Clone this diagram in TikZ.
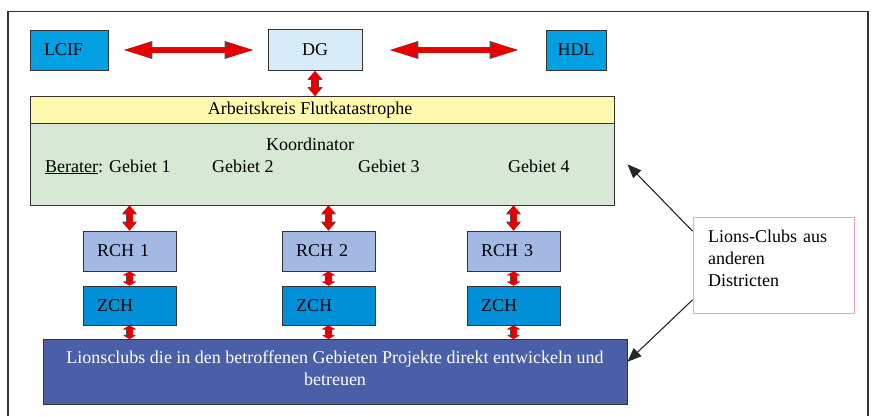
\documentclass[tikz,border=0pt]{standalone}
\usepackage{fontspec}
\setmainfont{Liberation Serif}
\usetikzlibrary{arrows.meta,positioning,calc}
\definecolor{lcifblue}{RGB}{0,160,226}
\definecolor{dgfill}{RGB}{215,235,248}
\definecolor{akfill}{RGB}{255,248,175}
\definecolor{koordfill}{RGB}{215,233,212}
\definecolor{rchfill}{RGB}{163,185,227}
\definecolor{zchfill}{RGB}{0,144,215}
\definecolor{lionsfill}{RGB}{75,94,168}
\definecolor{pinkline}{RGB}{244,166,174}
\definecolor{redfill}{RGB}{232,0,0}

\begin{document}
\begin{tikzpicture}[
    x=1pt, y=-1pt, font=\fontsize{18}{21.6}\selectfont,
    box/.style={draw=black!80, line width=0.9pt, inner sep=0pt, minimum height=40pt},
    padbox/.style={box, inner xsep=14pt, align=left},
    band/.style={box, minimum width=584pt},
    gebiet/.style={anchor=base west, inner sep=0pt},
    bigdbl/.style={draw=redfill, line width=5pt,
      {Triangle[length=28pt,width=14pt]}-{Triangle[length=28pt,width=14pt]},
      preaction={draw=black!70, line width=6.4pt,
        arrows={{Triangle[length=30pt,width=16pt]}-{Triangle[length=30pt,width=16pt]}}}},
    middbl/.style={draw=redfill, line width=6pt,
      {Triangle[length=8pt,width=13pt]}-{Triangle[length=8pt,width=13pt]},
      preaction={draw=black!70, line width=7.4pt,
        arrows={{Triangle[length=9pt,width=14.6pt]}-{Triangle[length=9pt,width=14.6pt]}}}},
    smalldbl/.style={draw=redfill, line width=6pt,
      {Triangle[length=3.5pt,width=12pt]}-{Triangle[length=3.5pt,width=12pt]},
      preaction={draw=black!70, line width=7.4pt,
        arrows={{Triangle[length=4.2pt,width=13.4pt]}-{Triangle[length=4.2pt,width=13.4pt]}}}},
    pointer/.style={-{Triangle[length=14pt,width=11pt]}, draw=black!85, line width=1.1pt},
  ]
  \useasboundingbox (0,0) rectangle (874,416);
  % outer frame, open at the bottom
  \draw[black!80, line width=1.2pt] (8,416) -- (8,11.5) -- (868,11.5) -- (868,416);

  % top row
  \node[padbox, fill=lcifblue, text width=50pt] (lcif) at (69,50) {LCIF};
  \node[box, fill=dgfill, minimum width=94pt, minimum height=41pt] (dg) at (315,50) {DG};
  \node[box, fill=lcifblue, minimum width=60pt] (hdl) at (576,50) {HDL};

  % Arbeitskreis and Koordinator
  \node[band, fill=akfill, minimum height=27pt,
    label={[xshift=-12pt]center:Arbeitskreis Flutkatastrophe}] (ak) at (322,110) {};
  \node[band, fill=koordfill, minimum height=81.5pt] (koord) at (322,164.25) {};
  \node[anchor=base, inner sep=0pt] (koordtxt) at (310,150) {Koordinator};
  \node[gebiet] (geb1) at (45,172) {\underline{Berater}: Gebiet 1};
  \node[gebiet] (geb2) at (212,172) {Gebiet 2};
  \node[gebiet] (geb3) at (358,172) {Gebiet 3};
  \node[gebiet] (geb4) at (508,172) {Gebiet 4};

  % Lionsclubs vor Ort
  \node[box, fill=lionsfill, text=white, minimum width=584pt, align=center,
    inner ysep=0pt, text height=46.1pt, text depth=19pt] (lions) at (335,372)
    {Lionsclubs die in den betroffenen Gebieten Projekte direkt entwickeln und\\ betreuen};

  % RCH / ZCH columns
  \foreach \n/\x in {1/129.5, 2/328.5, 3/513.5} {
    \node[padbox, fill=rchfill, text width=65pt] (rch\n) at (\x,251) {RCH \n};
    \node[padbox, fill=zchfill, text width=65pt, minimum height=39pt] (zch\n) at (\x,305.5) {ZCH};
    \draw[middbl] (koord.south -| rch\n.north) -- (rch\n.north);
    \draw[smalldbl] (rch\n.south) -- (zch\n.north);
    \draw[smalldbl] (zch\n.south) -- (zch\n.south |- lions.north);
  }

  \draw[bigdbl, shorten <=14pt, shorten >=13pt] (lcif.east) -- (dg.west);
  \draw[bigdbl, shorten <=26pt, shorten >=26pt] (dg.east) -- (hdl.west);
  \draw[middbl] (dg.south) -- (dg.south |- ak.north);

  % Lions-Clubs aus anderen Districten
  \node[draw=pinkline, line width=0.9pt, minimum width=161pt, inner xsep=15pt,
    inner ysep=0pt, text width=131pt, align=left, text height=25pt, text depth=70.2pt]
    (others) at (773.5,265.5) {Lions-Clubs aus\\ anderen\\ Districten};
  \coordinate (kgap) at ($(koord.east)+(13,0)$);
  \draw[pointer] (others.157) -- (kgap);
  \draw[pointer] (others.203) -- (lions.2);
\end{tikzpicture}
\end{document}
